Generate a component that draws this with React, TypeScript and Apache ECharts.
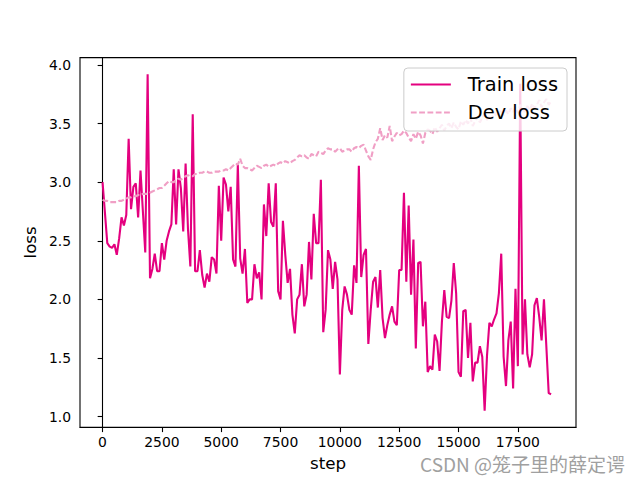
import React, { useEffect, useRef } from "react";
import * as echarts from "echarts";

const stepInterval = 100;

const trainLoss: number[] = [
  3.00, 2.74, 2.48, 2.45, 2.44, 2.47, 2.38, 2.52, 2.70, 2.63,
  2.72, 3.37, 2.77, 2.96, 2.99, 2.70, 3.10, 2.75, 2.40, 3.92,
  2.18, 2.26, 2.39, 2.24, 2.24, 2.48, 2.34, 2.50, 2.58, 2.64,
  3.11, 2.64, 3.11, 2.95, 2.58, 3.16, 2.60, 2.28, 3.58, 2.24,
  2.24, 2.42, 2.21, 2.10, 2.22, 2.15, 2.36, 2.34, 2.22, 2.97,
  2.50, 3.04, 2.98, 2.75, 2.96, 2.34, 2.28, 3.15, 2.35, 2.22,
  2.43, 1.97, 2.00, 2.00, 2.30, 2.18, 2.23, 2.00, 2.81, 2.54,
  2.99, 2.66, 2.62, 2.99, 2.07, 2.00, 2.67, 2.38, 2.14, 2.26,
  1.87, 1.71, 2.00, 2.04, 2.30, 1.94, 2.04, 2.49, 2.17, 2.73,
  2.48, 2.48, 3.02, 1.72, 1.91, 2.42, 2.34, 2.09, 2.32, 2.17,
  1.36, 1.91, 2.11, 2.04, 1.91, 1.87, 2.29, 2.14, 3.14, 2.19,
  2.38, 2.43, 1.62, 1.91, 2.15, 2.19, 1.93, 2.25, 1.84, 1.67,
  1.78, 1.87, 1.94, 1.81, 1.78, 2.25, 2.25, 2.91, 2.15, 2.80,
  2.04, 2.51, 1.58, 2.31, 2.32, 1.77, 1.98, 1.38, 1.43, 1.40,
  1.70, 1.64, 1.39, 1.81, 2.08, 1.85, 1.84, 1.99, 2.31, 2.05,
  1.38, 1.34, 1.90, 1.91, 1.50, 1.80, 1.30, 1.46, 1.46, 1.60,
  1.51, 1.05, 1.52, 1.80, 1.77, 1.83, 1.88, 2.05, 2.39, 1.51,
  1.26, 1.65, 1.81, 1.24, 2.09, 1.43, 3.84, 1.53, 2.00, 1.53,
  1.42, 1.53, 1.95, 2.01, 1.85, 1.65, 2.00, 1.60, 1.20, 1.19,
];

const devLoss: number[] = [
  2.85, 2.84, 2.84, 2.83, 2.83, 2.83, 2.83, 2.84, 2.84, 2.85,
  2.86, 2.87, 2.87, 2.88, 2.88, 2.89, 2.89, 2.90, 2.90, 2.90,
  2.91, 2.92, 2.93, 2.94, 2.95, 2.95, 2.97, 2.99, 3.01, 3.00,
  3.00, 3.02, 3.03, 3.02, 3.04, 3.05, 3.06, 3.05, 3.05, 3.07,
  3.07, 3.08, 3.08, 3.09, 3.09, 3.08, 3.08, 3.09, 3.09, 3.09,
  3.10, 3.10, 3.11, 3.10, 3.12, 3.14, 3.16, 3.15, 3.20, 3.14,
  3.12, 3.12, 3.11, 3.10, 3.12, 3.14, 3.13, 3.12, 3.14, 3.15,
  3.13, 3.14, 3.15, 3.14, 3.16, 3.17, 3.16, 3.18, 3.17, 3.16,
  3.18, 3.19, 3.21, 3.23, 3.22, 3.23, 3.21, 3.20, 3.24, 3.23,
  3.22, 3.26, 3.25, 3.24, 3.27, 3.29, 3.28, 3.28, 3.26, 3.28,
  3.29, 3.26, 3.27, 3.28, 3.28, 3.26, 3.29, 3.30, 3.29, 3.31,
  3.32, 3.27, 3.22, 3.19, 3.28, 3.34, 3.37, 3.46, 3.36, 3.40,
  3.38, 3.48, 3.35, 3.39, 3.42, 3.40, 3.41, 3.44, 3.42, 3.38,
  3.35, 3.41, 3.37, 3.43, 3.40, 3.33, 3.42, 3.45, 3.44, 3.41,
  3.47, 3.43, 3.46, 3.49, 3.44, 3.48, 3.50, 3.46, 3.51, 3.47,
  3.45, 3.52, 3.49, 3.53, 3.50, 3.55, 3.48, 3.52, 3.56, 3.51,
  3.55, 3.58, 3.53, 3.57, 3.54, 3.60, 3.56, 3.59, 3.62, 3.57,
  3.61, 3.58, 3.63, 3.60, 3.64, 3.59, 3.66, 3.62, 3.60, 3.65,
  3.61, 3.67, 3.63, 3.66, 3.70, 3.64, 3.68, 3.71, 3.66, 3.69,
];

const xTicks: number[] = [0, 2500, 5000, 7500, 10000, 12500, 15000, 17500];
const yTicks: number[] = [1.0, 1.5, 2.0, 2.5, 3.0, 3.5, 4.0];

const seriesNames = ["Train loss", "Dev loss"];
const trainColor = "#e4007f";
const devColor = "#f09fc5";
const font = "DejaVu Sans";

export default function App() {
  const ref = useRef<HTMLDivElement>(null);
  useEffect(() => {
    const chart = echarts.init(ref.current!, null, { renderer: "svg" });
    const trainData = trainLoss.map((v, i) => [i * stepInterval, v]);
    const devData = devLoss.map((v, i) => [i * stepInterval, v]);
    chart.setOption({
      animation: false,
      backgroundColor: "#ffffff",
      grid: {
        left: 80,
        right: 64,
        top: 57.6,
        bottom: 52.8,
        show: true,
        borderColor: "#000000",
        borderWidth: 1.1,
        backgroundColor: "transparent",
      },
      xAxis: {
        type: "value",
        min: -950,
        max: 19950,
        name: "step",
        nameLocation: "middle",
        nameGap: 24,
        nameTextStyle: { fontFamily: font, fontSize: 16.7, color: "#000" },
        axisLine: { show: true, lineStyle: { color: "#000", width: 1.1 } },
        axisTick: {
          show: true,
          customValues: xTicks,
          length: 4.9,
          lineStyle: { color: "#000", width: 1.1 },
        },
        axisLabel: {
          customValues: xTicks,
          margin: 8,
          fontFamily: font,
          fontSize: 13.9,
          color: "#000",
          formatter: (v: number) => String(Math.round(v)),
        },
        splitLine: { show: false },
      },
      yAxis: {
        type: "value",
        min: 0.909,
        max: 4.063,
        name: "loss",
        nameLocation: "middle",
        nameGap: 35,
        nameTextStyle: { fontFamily: font, fontSize: 16.7, color: "#000" },
        axisLine: { show: true, lineStyle: { color: "#000", width: 1.1 } },
        axisTick: {
          show: true,
          customValues: yTicks,
          length: 4.9,
          lineStyle: { color: "#000", width: 1.1 },
        },
        axisLabel: {
          customValues: yTicks,
          margin: 9,
          fontFamily: font,
          fontSize: 13.9,
          color: "#000",
          formatter: (v: number) => v.toFixed(1),
        },
        splitLine: { show: false },
      },
      legend: {
        data: seriesNames,
        orient: "vertical",
        right: 73,
        top: 68,
        itemWidth: 40,
        itemHeight: 14,
        itemGap: 9,
        padding: [7, 9, 9, 6],
        backgroundColor: "rgba(255,255,255,0.8)",
        borderColor: "#cccccc",
        borderWidth: 1,
        borderRadius: 4,
        itemStyle: { opacity: 0 },
        textStyle: {
          fontFamily: font,
          fontSize: 19.4,
          color: "#000",
          padding: [0, 0, 0, 12],
        },
      },
      series: [
        {
          name: seriesNames[0],
          type: "line",
          data: trainData,
          symbol: "none",
          showSymbol: false,
          lineStyle: { color: trainColor, width: 2.1 },
          itemStyle: { color: trainColor },
        },
        {
          name: seriesNames[1],
          type: "line",
          data: devData,
          symbol: "none",
          showSymbol: false,
          lineStyle: { color: devColor, width: 2.1, type: [5.8, 2.5] },
          itemStyle: { color: devColor },
        },
      ],
      graphic: [
        {
          type: "text",
          right: 15,
          top: 454,
          style: {
            text: "CSDN @笼子里的薛定谔",
            fontFamily: "Noto Sans CJK SC",
            fontSize: 19,
            fill: "#a0a0a0",
          },
        },
      ],
    });
    return () => chart.dispose();
  }, []);
  return (
    <div
      ref={ref}
      style={{ position: "fixed", left: 0, top: 0, width: 640, height: 480 }}
    />
  );
}
